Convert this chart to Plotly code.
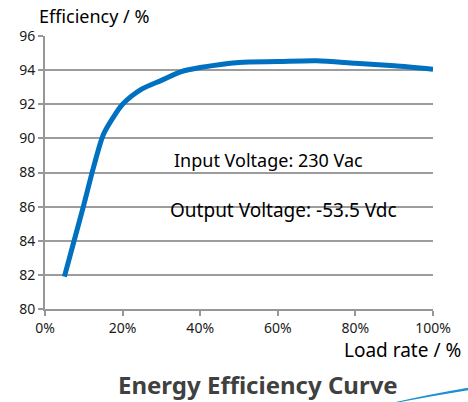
import plotly.graph_objects as go

load_rate = [5, 7.5, 10, 12.5, 15, 17.5, 20, 25, 30, 35, 40, 50, 60, 70, 80, 90, 100]
efficiency = [81.9, 84.0, 86.1, 88.3, 90.2, 91.2, 92.0, 92.9, 93.4, 93.9, 94.15, 94.45, 94.5, 94.55, 94.4, 94.25, 94.05]

y_ticks = [80, 82, 84, 86, 88, 90, 92, 94, 96]
x_ticks = [0, 20, 40, 60, 80, 100]
x_tick_labels = ["0%", "20%", "40%", "60%", "80%", "100%"]

FONT = "Noto Sans"

fig = go.Figure()
fig.add_trace(go.Scatter(
    x=load_rate, y=efficiency, mode="lines",
    line=dict(color="#0070C0", width=5, shape="spline", smoothing=0.8),
    hoverinfo="skip", showlegend=False,
))

fig.update_layout(
    width=468, height=402,
    margin=dict(l=45, r=35, t=36, b=93),
    paper_bgcolor="white", plot_bgcolor="white",
    font=dict(family=FONT, color="black"),
    title=dict(text="Efficiency / %", xref="container", yref="container",
               x=39 / 468, y=1 - 17 / 402, xanchor="left", yanchor="middle",
               font=dict(size=18, color="black")),
    xaxis=dict(
        range=[0, 100], tickvals=x_ticks, ticktext=x_tick_labels,
        showgrid=False, zeroline=False, showline=True,
        linecolor="#979797", linewidth=2,
        ticks="outside", ticklen=5, tickwidth=1.5, tickcolor="#979797",
        tickfont=dict(size=14, color="#1a1a1a"),
    ),
    yaxis=dict(
        range=[80, 96], tickvals=y_ticks,
        showgrid=True, gridcolor="#9c9c9c", gridwidth=2,
        zeroline=False, showline=True,
        linecolor="#979797", linewidth=2,
        ticks="outside", ticklen=5, tickwidth=1.5, tickcolor="#979797",
        tickfont=dict(size=14, color="#1a1a1a"),
    ),
    annotations=[
        dict(text="Load rate / %", xref="paper", yref="paper",
             x=1.077, y=-0.150, xanchor="right", yanchor="middle",
             showarrow=False, font=dict(size=19, color="black")),
        dict(text="<b>Energy Efficiency Curve</b>", xref="paper", yref="paper",
             x=0.549, y=-0.278, xanchor="center", yanchor="middle",
             showarrow=False, font=dict(size=24, color="#404040")),
        dict(text="Input Voltage: 230 Vac", xref="x", yref="y",
             x=32.7, y=88.75, xanchor="left", yanchor="middle",
             showarrow=False, font=dict(size=18, color="black")),
        dict(text="Output Voltage: -53.5 Vdc", xref="x", yref="y",
             x=31.6, y=85.8, xanchor="left", yanchor="middle",
             showarrow=False, font=dict(size=19, color="black")),
    ],
    shapes=[
        dict(type="path", xref="paper", yref="paper",
             path="M 0.90 -0.342 Q 1.03 -0.30 1.18 -0.268 L 1.18 -0.278 Q 1.03 -0.31 0.90 -0.345 Z",
             fillcolor="#1E8FD0", line=dict(width=0), layer="above"),
    ],
)

fig.write_html("out.html", config={"displayModeBar": False},
               post_script="document.body.style.margin='0';document.body.style.overflow='hidden';")
